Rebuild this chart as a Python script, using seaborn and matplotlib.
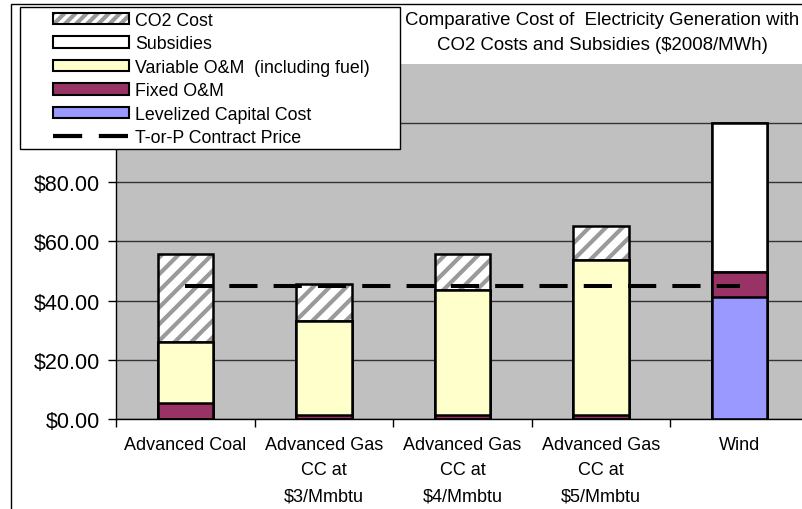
import numpy as np
import pandas as pd
import matplotlib
matplotlib.use("Agg")
import matplotlib.pyplot as plt
import seaborn as sns
from matplotlib.patches import Patch, Rectangle
from matplotlib.lines import Line2D
from matplotlib.legend_handler import HandlerTuple

# Data ($2008/MWh)
plants = ["Advanced Coal",
          "Advanced Gas\nCC at\n$3/Mmbtu",
          "Advanced Gas\nCC at\n$4/Mmbtu",
          "Advanced Gas\nCC at\n$5/Mmbtu",
          "Wind"]
capital = [0, 0, 0, 0, 41.1]
fixed_om = [5.4, 1.5, 1.5, 1.5, 8.5]
variable_om = [20.6, 31.7, 42.0, 52.1, 0]
subsidies = [0, 0, 0, 0, 50.4]
co2_cost = [29.6, 12.3, 12.1, 11.5, 0]
contract_price = [45, 45, 45, 45, 45]

df = pd.DataFrame({"plant": plants, "capital": capital, "fixed": fixed_om,
                   "variable": variable_om, "subsidies": subsidies, "co2": co2_cost})
# cumulative heights, bottom to top
df["c_capital"] = df["capital"]
df["c_fixed"] = df["c_capital"] + df["fixed"]
df["c_variable"] = df["c_fixed"] + df["variable"]
df["c_subsidies"] = df["c_variable"] + df["subsidies"]
df["c_co2"] = df["c_subsidies"] + df["co2"]

plt.rcParams['font.family'] = ['Liberation Sans', 'DejaVu Sans']
plt.rcParams['hatch.linewidth'] = 3.0

fig = plt.figure(figsize=(8.03, 5.10), dpi=100)
ax = fig.add_axes([0.1445, 0.1765, 0.8630, 0.6961])
ax.set_facecolor('#C0C0C0')

bw = 0.4
edge_lw = 1.8
hatch_col = "#9A9A9A"

# CO2 layer: gray hatch, then black outline
sns.barplot(data=df, x="plant", y="c_co2", order=plants, color="white", saturation=1,
            width=bw, errorbar=None, edgecolor=hatch_col, linewidth=0, hatch="//", ax=ax)
sns.barplot(data=df, x="plant", y="c_co2", order=plants, color="black", fill=False,
            width=bw, errorbar=None, linewidth=edge_lw, ax=ax)

layers = [("c_subsidies", "white"), ("c_variable", "#FFFFCC"),
          ("c_fixed", "#993366"), ("c_capital", "#9999FF")]
for col, colr in layers:
    sns.barplot(data=df, x="plant", y=col, order=plants, color=colr, saturation=1,
                width=bw, errorbar=None, edgecolor="black", linewidth=edge_lw, ax=ax)

# take-or-pay contract price
sns.lineplot(x=np.arange(len(plants)), y=contract_price, color="black", linewidth=2.9,
             linestyle=(0, (7, 4)), ax=ax)

ax.set_xlim(-0.5, 4.5)
ax.set_ylim(0, 120)
ax.set_yticks(range(0, 101, 20))
ax.yaxis.set_major_formatter(matplotlib.ticker.StrMethodFormatter("${x:.2f}"))
ax.tick_params(axis="y", labelsize=15.5, length=5.5, width=1, color="black", pad=6)
ax.set_xticks(range(len(plants)))
ax.set_xticklabels(plants, fontsize=13, linespacing=1.68)
ax.tick_params(axis="x", which="major", length=0, pad=12)
ax.set_xticks(np.arange(-0.5, 5, 1), minor=True)
ax.tick_params(axis="x", which="minor", length=6, width=1, color="black")
ax.set_xlabel("")
ax.set_ylabel("")
ax.yaxis.grid(True, color="#333333", linewidth=1)
ax.set_axisbelow(True)
for s in ["top", "right"]:
    ax.spines[s].set_visible(False)
for s in ["left", "bottom"]:
    ax.spines[s].set_color("black")
    ax.spines[s].set_linewidth(1)

# outer chart border
fig.patches.append(Rectangle((11 / 803, -0.1), 2, 1.1 - 5 / 510, transform=fig.transFigure,
                             fill=False, edgecolor="black", linewidth=1, zorder=3))

# title
fig.text(602 / 803, 1 - 12 / 510,
         "Comparative Cost of  Electricity Generation with\nCO2 Costs and Subsidies ($2008/MWh)",
         ha="center", va="top", fontsize=13.4, linespacing=1.62)

# legend box
fig.patches.append(Rectangle((20 / 803, 1 - 150 / 510), 380 / 803, 142 / 510,
                             transform=fig.transFigure, facecolor="white",
                             edgecolor="black", linewidth=1, zorder=4))
co2_handle = (Patch(facecolor="white", edgecolor=hatch_col, hatch="///", linewidth=0),
              Patch(fill=False, edgecolor="black", linewidth=1.5))
handles = [
    co2_handle,
    Patch(facecolor="white", edgecolor="black", linewidth=1.5),
    Patch(facecolor="#FFFFCC", edgecolor="black", linewidth=1.5),
    Patch(facecolor="#993366", edgecolor="black", linewidth=1.5),
    Patch(facecolor="#9999FF", edgecolor="black", linewidth=1.5),
    Line2D([], [], color="black", linewidth=3, linestyle=(0, (7, 4))),
]
labels = ["CO2 Cost", "Subsidies", "Variable O&M  (including fuel)", "Fixed O&M",
          "Levelized Capital Cost", "T-or-P Contract Price"]
leg = fig.legend(handles, labels, loc="upper left", bbox_to_anchor=(53 / 803, 1 - 13 / 510),
                 bbox_transform=fig.transFigure, frameon=False, fontsize=12.8,
                 handlelength=4.3, handleheight=0.6, handletextpad=0.3,
                 labelspacing=0.36, borderpad=0, borderaxespad=0,
                 handler_map={tuple: HandlerTuple(ndivide=1, pad=0)})
leg.set_zorder(5)

fig.savefig("out.png", dpi=100)
